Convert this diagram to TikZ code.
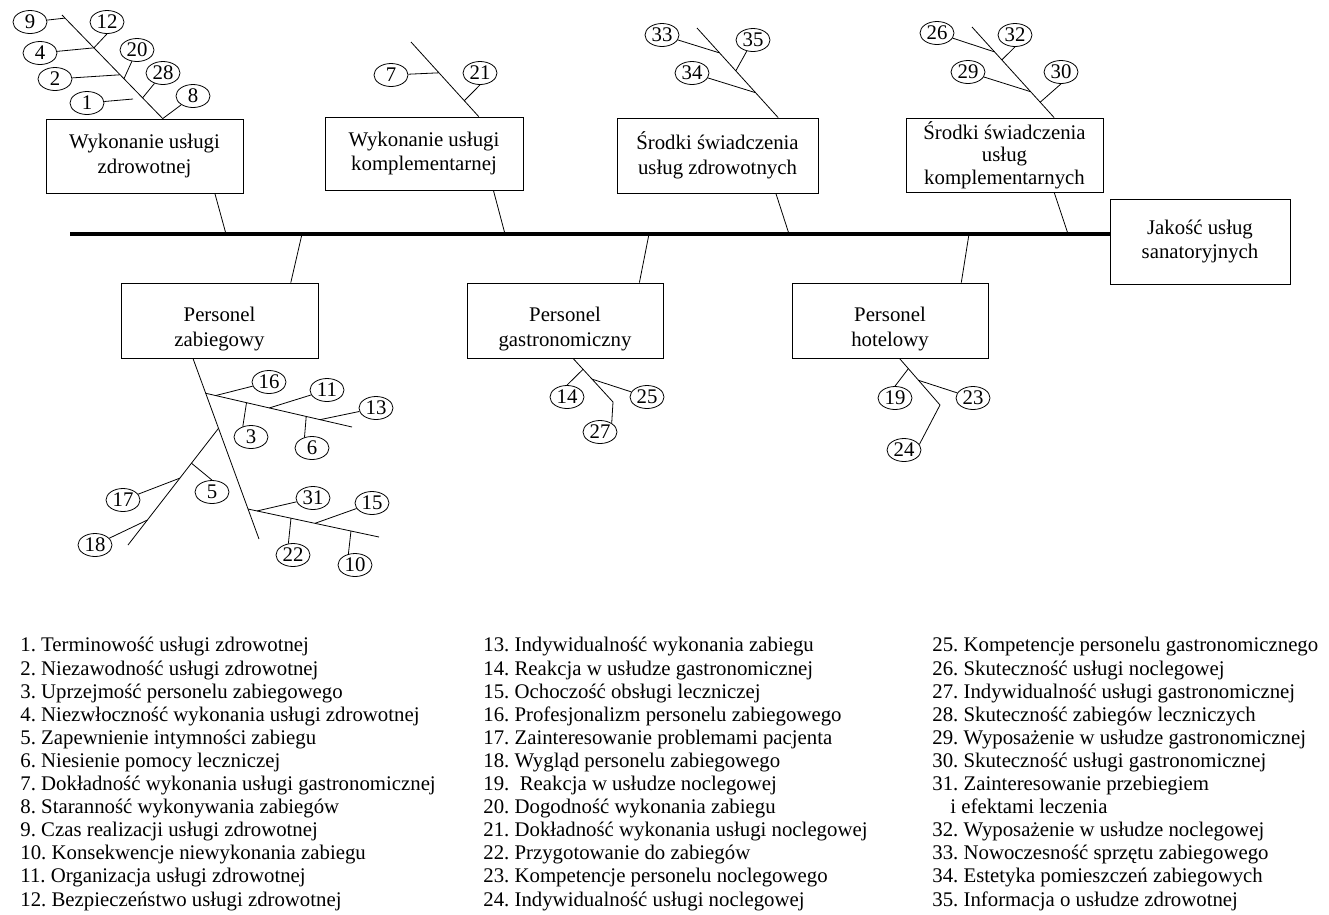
\documentclass[tikz,border=0pt]{standalone}
\usepackage{fontspec}
\setmainfont{Liberation Serif}
\usetikzlibrary{shapes.geometric,calc}
\tikzset{
  box/.style={draw,align=center,inner sep=0pt,minimum width=197pt,minimum height=74pt},
  pbox/.style={box,minimum height=75pt,text height=56pt},
  num/.style={draw,ellipse,inner sep=0pt,minimum width=34pt,minimum height=23pt},
  opis/.style={align=left,anchor=base west,inner sep=0pt,font=\fontsize{20.8}{23.1}\selectfont\frenchspacing}
}
\begin{document}
\begin{tikzpicture}[x=1pt,y=-1pt,line width=0.8pt,font=\fontsize{20.8}{24.5}\selectfont]
  \useasboundingbox (0,0) rectangle (1329,914);
  % glowa i kategorie
  \draw
    (1200,241.5) node[box,minimum width=180pt,minimum height=85pt] (jakosc){Jakość usług\\sanatoryjnych}
    (144.5,156) node[box] (wz){Wykonanie usługi\\zdrowotnej}
    (424,153.5) node[box,minimum width=198pt,minimum height=73pt] (wk){Wykonanie usługi\\komplementarnej}
    (717.5,155.5) node[box,minimum width=201pt,minimum height=75pt] (sz){Środki świadczenia\\usług zdrowotnych}
    (1004.5,155) node[box,font=\fontsize{20.8}{22.5}\selectfont] (sk){Środki świadczenia\\usług\\komplementarnych}
    (219.5,320.5) node[pbox] (pz){Personel\\zabiegowy}
    (565,320.5) node[pbox,minimum width=196pt] (pg){Personel\\gastronomiczny}
    (890,320.5) node[pbox,minimum width=196pt] (ph){Personel\\hotelowy};
  % czynniki
  \draw
    (30,22) node[num] (e9){9}
    (107,22) node[num] (e12){12}
    (40,53) node[num] (e4){4}
    (137,50) node[num] (e20){20}
    (55,79) node[num] (e2){2}
    (163,73) node[num] (e28){28}
    (87,103) node[num] (e1){1}
    (193,96) node[num] (e8){8}
    (391,75) node[num] (e7){7}
    (480,73) node[num] (e21){21}
    (662,35) node[num] (e33){33}
    (753,40) node[num] (e35){35}
    (692,73) node[num] (e34){34}
    (937,33) node[num] (e26){26}
    (1015,35) node[num] (e32){32}
    (968,72) node[num] (e29){29}
    (1061,72) node[num] (e30){30}
    (269,382) node[num] (e16){16}
    (327,390) node[num] (e11){11}
    (376,408) node[num] (e13){13}
    (251,437) node[num] (e3){3}
    (312,448) node[num] (e6){6}
    (212,492) node[num] (e5){5}
    (123,500) node[num] (e17){17}
    (95,545) node[num] (e18){18}
    (313,498) node[num] (e31){31}
    (372,503) node[num] (e15){15}
    (293,555) node[num] (e22){22}
    (355,565) node[num] (e10){10}
    (567,397) node[num] (e14){14}
    (647,397) node[num] (e25){25}
    (600,432) node[num] (e27){27}
    (895,398) node[num] (e19){19}
    (973,398) node[num] (e23){23}
    (904,450) node[num] (e24){24};
  % wolne konce osci
  \coordinate (ogon) at (70,234);
  \coordinate (g1) at (62,15);
  \coordinate (g2) at (411,42);
  \coordinate (g3) at (697,28);
  \coordinate (g4) at (972,27);
  \coordinate (g5) at (259,539);
  \coordinate (g5a) at (352,427);
  \coordinate (g5b) at (128,545);
  \coordinate (g5c) at (379,537);
  \coordinate (g6) at (613,402);
  \coordinate (g7) at (940,405);
  \coordinate (k1) at (133,99);
  \coordinate (u5) at ($(pz.-125.2)!0.193!(g5)$);
  \coordinate (l5) at ($(pz.-125.2)!0.387!(g5)$);
  \coordinate (w5) at ($(pz.-125.2)!0.834!(g5)$);
  \begin{scope}[-]
    \draw[line width=4pt] (ogon) to (ogon -| jakosc.west);
    \draw (wz.-28.4) to (226,234);
    \draw (wk.-28.2) to (505,234);
    \draw (sz.-33.1) to (789,234);
    \draw (sk.-37.9) to (1068,234);
    \draw (pz.28) to (302,234);
    \draw (pg.27.5) to (649,234);
    \draw (ph.28.5) to (969,234);
    % Wykonanie uslugi zdrowotnej
    \draw (g1) to (wz.64.7);
    \draw (e9) to ($(g1)!0.03!(wz.64.7)$);
    \draw (e4) to ($(g1)!0.317!(wz.64.7)$) to (e12.south);
    \draw (e2) to ($(g1)!0.577!(wz.64.7)$);
    \draw ($(g1)!0.615!(wz.64.7)$) to (e20);
    \draw ($(g1)!0.8!(wz.64.7)$) to (e28);
    \draw (e1) to (k1);
    \draw (wz.64.7) to (e8);
    % Wykonanie uslugi komplementarnej
    \draw (g2) to (wk.34.1);
    \draw (e7) to ($(g2)!0.413!(wk.34.1)$);
    \draw ($(g2)!0.787!(wk.34.1)$) to (e21.south);
    % Srodki swiadczenia uslug zdrowotnych
    \draw (g3) to (sz.32.2);
    \draw (e33) to ($(g3)!0.278!(sz.32.2)$);
    \draw ($(g3)!0.478!(sz.32.2)$) to (e35);
    \draw (e34) to ($(g3)!0.722!(sz.32.2)$);
    % Srodki swiadczenia uslug komplementarnych
    \draw (g4) to (sk.37.9);
    \draw (e26) to ($(g4)!0.275!(sk.37.9)$);
    \draw ($(g4)!0.363!(sk.37.9)$) to (e32.south);
    \draw (e29) to ($(g4)!0.714!(sk.37.9)$);
    \draw ($(g4)!0.83!(sk.37.9)$) to (e30.south);
    % Personel zabiegowy
    \draw (pz.-125.2) to (g5);
    \draw (u5) to (g5a);
    \draw ($(u5)!0.068!(g5a)$) to (e16);
    \draw ($(u5)!0.279!(g5a)$) to (e3.128);
    \draw ($(u5)!0.435!(g5a)$) to (e11);
    \draw ($(u5)!0.687!(g5a)$) to (e6.125);
    \draw ($(u5)!0.782!(g5a)$) to (e13);
    \draw (l5) to (g5b);
    \draw ($(l5)!0.299!(g5b)$) to (e5.north);
    \draw ($(l5)!0.427!(g5b)$) to (e17);
    \draw ($(l5)!0.786!(g5b)$) to (e18);
    \draw (w5) to (g5c);
    \draw ($(w5)!0.069!(g5c)$) to (e31);
    \draw ($(w5)!0.328!(g5c)$) to (e22.112);
    \draw ($(w5)!0.511!(g5c)$) to (e15);
    \draw ($(w5)!0.786!(g5c)$) to (e10.121);
    % Personel gastronomiczny
    \draw (pg.-78) to (g6) to (e27.37);
    \draw ($(pg.-78)!0.25!(g6)$) to (e14.north);
    \draw ($(pg.-78)!0.475!(g6)$) to (e25);
    % Personel hotelowy
    \draw (ph.-76.5) to (g7) to (e24.20);
    \draw ($(ph.-76.5)!0.22!(g7)$) to (e19.north);
    \draw ($(ph.-76.5)!0.47!(g7)$) to (e23);
  \end{scope}
  % legenda (base = ostatni wiersz)
  \node[opis] (opis1) at (20,906) {1. Terminowość usługi zdrowotnej\\
    2. Niezawodność usługi zdrowotnej\\
    3. Uprzejmość personelu zabiegowego\\
    4. Niezwłoczność wykonania usługi zdrowotnej\\
    5. Zapewnienie intymności zabiegu\\
    6. Niesienie pomocy leczniczej\\
    7. Dokładność wykonania usługi gastronomicznej\\
    8. Staranność wykonywania zabiegów\\
    9. Czas realizacji usługi zdrowotnej\\
    10. Konsekwencje niewykonania zabiegu\\
    11. Organizacja usługi zdrowotnej\\
    12. Bezpieczeństwo usługi zdrowotnej};
  \node[opis] (opis2) at (483,906) {13. Indywidualność wykonania zabiegu\\
    14. Reakcja w usłudze gastronomicznej\\
    15. Ochoczość obsługi leczniczej\\
    16. Profesjonalizm personelu zabiegowego\\
    17. Zainteresowanie problemami pacjenta\\
    18. Wygląd personelu zabiegowego\\
    19.~ Reakcja w usłudze noclegowej\\
    20. Dogodność wykonania zabiegu\\
    21. Dokładność wykonania usługi noclegowej\\
    22. Przygotowanie do zabiegów\\
    23. Kompetencje personelu noclegowego\\
    24. Indywidualność usługi noclegowej};
  \node[opis] (opis3) at (932,906) {25. Kompetencje personelu gastronomicznego\\
    26. Skuteczność usługi noclegowej\\
    27. Indywidualność usługi gastronomicznej\\
    28. Skuteczność zabiegów leczniczych\\
    29. Wyposażenie w usłudze gastronomicznej\\
    30. Skuteczność usługi gastronomicznej\\
    31. Zainteresowanie przebiegiem\\
    \hspace*{18pt}i efektami leczenia\\
    32. Wyposażenie w usłudze noclegowej\\
    33. Nowoczesność sprzętu zabiegowego\\
    34. Estetyka pomieszczeń zabiegowych\\
    35. Informacja o usłudze zdrowotnej};
\end{tikzpicture}
\end{document}
